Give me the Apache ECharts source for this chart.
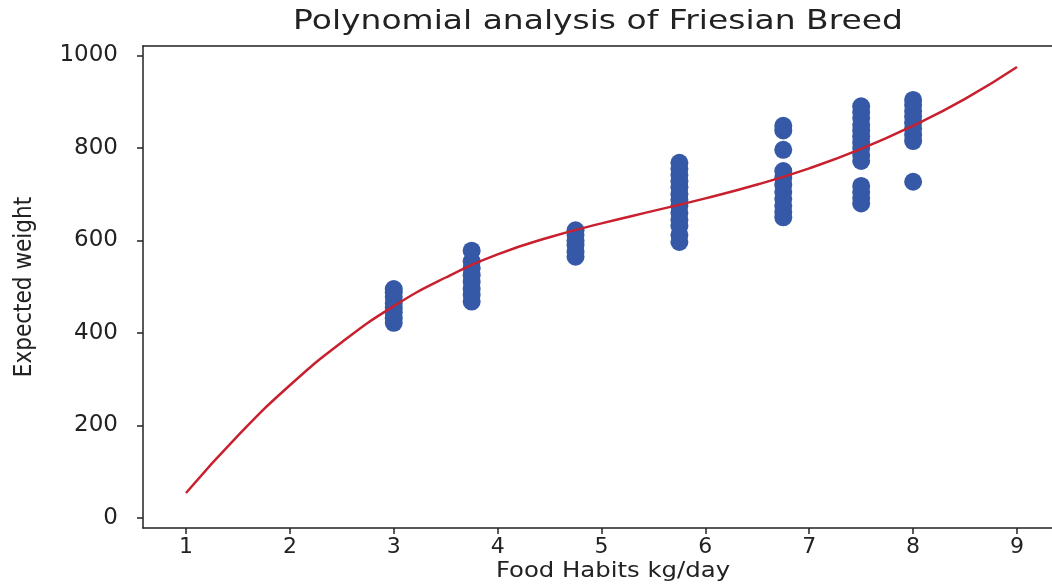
<!DOCTYPE html>
<html>
<head>
<meta charset="utf-8">
<script src="https://cdn.jsdelivr.net/npm/echarts@6/dist/echarts.min.js"></script>
<style>
  html, body { margin: 0; padding: 0; background: #fff; }
  #chart { width: 1052px; height: 587px; }
</style>
</head>
<body>
<div id="chart"></div>
<script>
// Observed weights per feeding level (kg/day)
const feed_3 = [422, 432, 445, 455, 465, 478, 488, 495];
const feed_375 = [468, 482, 495, 510, 525, 540, 555, 578];
const feed_475 = [565, 575, 590, 600, 612, 622];
const feed_575 = [597, 612, 632, 645, 660, 675, 688, 700, 715, 728, 742, 755, 768];
const feed_675 = [650, 662, 675, 690, 705, 720, 735, 750, 796, 838, 848];
const feed_75 = [680, 692, 705, 718, 772, 785, 800, 812, 825, 838, 850, 865, 878, 890];
const feed_8 = [727, 815, 828, 842, 855, 868, 880, 893, 904];

const feedLevels = [3, 3.75, 4.75, 5.75, 6.75, 7.5, 8];
const feedGroups = [feed_3, feed_375, feed_475, feed_575, feed_675, feed_75, feed_8];

// Fitted polynomial curve, sampled along the feed axis
const curveX = [1, 1.5, 2, 2.5, 3, 3.5, 4, 4.5, 5, 5.5, 6, 6.5, 7, 7.5, 8, 8.5, 9];
const curveY = [54, 178, 287, 380, 458, 520, 570, 607, 637, 664, 691, 721, 756, 798, 848, 906, 975];

const xTicks = [1, 2, 3, 4, 5, 6, 7, 8, 9];
const yTicks = [0, 200, 400, 600, 800, 1000];

const titleText = 'Polynomial analysis of Friesian Breed';
const xLabelText = 'Food Habits kg/day';
const yLabelText = 'Expected weight';

const points = [];
feedGroups.forEach((g, i) => g.forEach(v => points.push([feedLevels[i], v])));
const curve = curveX.map((x, i) => [x, curveY[i]]);

const FONT = 'DejaVu Sans';
const INK = '#222';
const X_MIN = 0.586, X_MAX = 9.337;   // plot area runs off the right edge of the page
const chart = echarts.init(document.getElementById('chart'), null, { renderer: 'canvas' });
chart.setOption({
  animation: false,
  backgroundColor: '#ffffff',
  grid: { left: 143, top: 46, right: 0, bottom: 59, show: false },
  graphic: [
    {
      type: 'text', x: 598, y: 22, scaleX: 1.22,
      style: { text: titleText, fontFamily: FONT, fontSize: 27, fill: INK, align: 'center', verticalAlign: 'middle' }
    },
    {
      type: 'text', x: 613, y: 572, scaleX: 1.16,
      style: { text: xLabelText, fontFamily: FONT, fontSize: 21, fill: INK, align: 'center', verticalAlign: 'middle' }
    }
  ],
  xAxis: [
    {
      type: 'value',
      min: X_MIN, max: X_MAX,
      splitLine: { show: false },
      axisLine: { show: true, onZero: false, lineStyle: { color: INK, width: 1.5 } },
      axisTick: { show: true, length: 6, customValues: xTicks, lineStyle: { color: INK, width: 1.5 } },
      axisLabel: { customValues: xTicks, margin: 8, fontFamily: FONT, fontSize: 22, color: INK,
                   formatter: v => String(v) }
    },
    {
      // top frame edge
      type: 'value', position: 'top',
      min: X_MIN, max: X_MAX,
      splitLine: { show: false },
      axisLine: { show: true, onZero: false, lineStyle: { color: INK, width: 1.5 } },
      axisTick: { show: false },
      axisLabel: { show: false }
    }
  ],
  yAxis: {
    type: 'value',
    min: -21.6, max: 1020.5,
    name: yLabelText,
    nameLocation: 'middle',
    nameGap: 106,
    nameTextStyle: { fontFamily: 'DejaVu Sans Condensed', fontSize: 24, color: INK },
    splitLine: { show: false },
    axisLine: { show: true, onZero: false, lineStyle: { color: INK, width: 1.5 } },
    axisTick: { show: true, length: 6, customValues: yTicks, lineStyle: { color: INK, width: 1.5 } },
    axisLabel: { customValues: yTicks, margin: 25, fontFamily: FONT, fontSize: 23, color: INK,
                 formatter: v => String(v) }
  },
  series: [
    {
      type: 'scatter',
      data: points,
      symbol: 'circle',
      symbolSize: 18,
      itemStyle: { color: '#3559a6', opacity: 1 },
      z: 2
    },
    {
      type: 'line',
      data: curve,
      smooth: true,
      showSymbol: false,
      lineStyle: { color: '#c8202e', width: 2.5 },
      z: 3
    }
  ]
});
</script>
</body>
</html>
